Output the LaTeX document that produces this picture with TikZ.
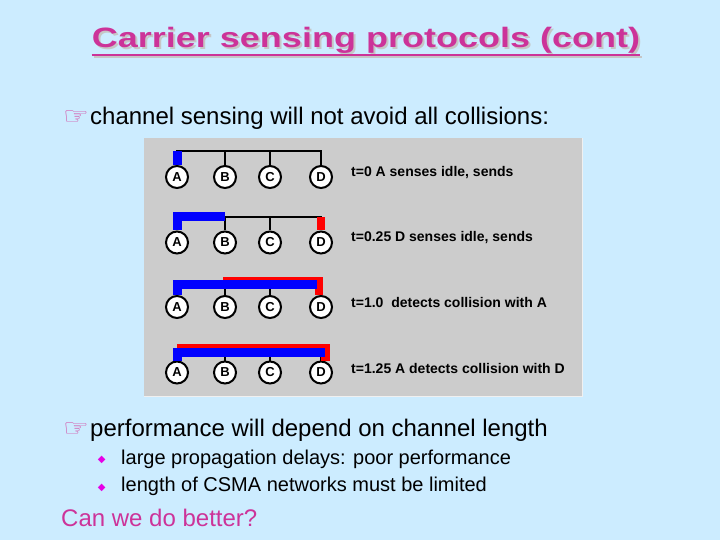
\documentclass[tikz,border=0pt]{standalone}
\usepackage{fontspec}
\setmainfont{Liberation Sans}
\newfontfamily\symbolfont{DejaVu Sans}
\definecolor{slideblue}{RGB}{204,236,255}
\definecolor{slidepink}{RGB}{204,51,153}
\definecolor{bulletpink}{RGB}{230,0,230}
\definecolor{panelgray}{RGB}{204,204,204}
\definecolor{sigblue}{RGB}{0,0,255}
\definecolor{sigred}{RGB}{255,0,0}
\newcommand{\titletext}{\scalebox{1.286}[1]{Carrier sensing protocols (cont)}}

\begin{document}
\begin{tikzpicture}[x=1pt,y=-1pt]
  \tikzset{station/.style={circle, draw, line width=2pt, fill=white, minimum size=22pt,
      inner sep=0pt, font=\fontsize{13}{13}\selectfont\bfseries},
    busline/.style={line width=1.5pt},
    sigA/.style={draw=sigblue, line width=9pt},
    sigD/.style={draw=sigred, line width=8.5pt},
    eventtext/.style={anchor=base west, inner sep=0pt, font=\fontsize{14}{14}\selectfont\bfseries},
    bodyline/.style={anchor=base west, inner sep=0pt, font=\fontsize{24}{24}\selectfont},
    subitem/.style={anchor=base west, inner sep=0pt, font=\fontsize{20}{20}\selectfont},
    handmark/.style={anchor=base west, inner sep=0pt, text=slidepink!85!white,
      font=\symbolfont\fontsize{24}{24}\selectfont},
    diamondmark/.style={inner sep=0pt, text=bulletpink, font=\symbolfont\fontsize{10}{10}\selectfont},
    titlestyle/.style={anchor=base, inner sep=0pt, font=\fontsize{28}{28}\selectfont\bfseries}}
  % Slide
  \fill[slideblue] (0,0) rectangle (720,540);
  \useasboundingbox (0,0) rectangle (720,540);
  % Title, with its shadow
  \node[titlestyle, text=gray!45] (titleshadow) at (368,50) {\titletext};
  \draw[gray!45, line width=2.5pt] ([yshift=-7pt]titleshadow.base west) -- ([yshift=-7pt]titleshadow.base east);
  \node[titlestyle, text=slidepink] (title) at (366,48) {\titletext};
  \draw[slidepink, line width=2.5pt] ([yshift=-7pt]title.base west) -- ([yshift=-7pt]title.base east);
  % First bullet
  \node[handmark] (hand1) at (63,124.5) {\scalebox{1.2}[1]{☞}};
  \node[bodyline] (line1) at (90,124.5) {channel sensing will not avoid all collisions:};
  % Panel
  \fill[panelgray] (144,138) rectangle (582,396);
  \draw[white!70!panelgray, line width=1pt] (144,396) -- (582,396) -- (582,138);
  \coordinate (bus1) at (0,151);
  \coordinate (bus2) at (0,217);
  \coordinate (bus3) at (0,284);
  \coordinate (bus4) at (0,352);
  \coordinate (red3) at (0,281);
  \coordinate (red4) at (0,348);
  \foreach \r/\y in {1/177,2/242.5,3/307,4/372.5}
    \foreach \s/\x in {A/177,B/225,C/270,D/321}
      \node[station] (\s\r) at (\x,\y) {\s};
  \foreach \r in {1,...,4} {
    \draw[busline] (A\r.north) |- (D\r.north |- bus\r) -- (D\r.north);
    \draw[busline] (B\r.north) -- (B\r.north |- bus\r);
    \draw[busline] (C\r.north) -- (C\r.north |- bus\r);
  }
  % Row 1
  \draw[sigA] (A1.north) -- (A1.north |- bus1);
  % Row 2
  \draw[sigA] (A2.north) |- (B2.north |- bus2);
  \draw[sigD] (D2.north) -- (D2.north |- bus2);
  % Row 3
  \draw[sigD] ([xshift=-2pt]B3.north |- red3) -| ([xshift=-2pt]D3.north);
  \draw[sigA] (A3.north) |- ([xshift=-4pt]D3.north |- bus3);
  % Row 4
  \draw[sigD] (A4.north |- red4) -| ([xshift=4.5pt]D4.north);
  \draw[sigA] (A4.north) |- ([xshift=4pt]D4.north |- bus4);
  % Event labels
  \node[eventtext] (ev1) at (351,176.7) {t=0 A senses idle, sends};
  \node[eventtext] (ev2) at (351,241.7) {t=0.25 D senses idle, sends};
  \node[eventtext] (ev3) at (351,307.7) {t=1.0\ \ detects collision with A};
  \node[eventtext] (ev4) at (351,373.3) {t=1.25 A detects collision with D};
  % Second bullet
  \node[handmark] (hand2) at (63,436) {\scalebox{1.2}[1]{☞}};
  \node[bodyline] (line2) at (90,436) {performance will depend on channel length};
  \node[diamondmark] (dia1) at (101.7,460) {◆};
  \node[subitem] (item1) at (121,464.3) {large propagation delays: poor performance};
  \node[diamondmark] (dia2) at (101.7,488.3) {◆};
  \node[subitem] (item2) at (121,491.7) {length of CSMA networks must be limited};
  % Closing question
  \node[bodyline, text=slidepink] (question) at (61,526) {Can we do better?};
\end{tikzpicture}
\end{document}
